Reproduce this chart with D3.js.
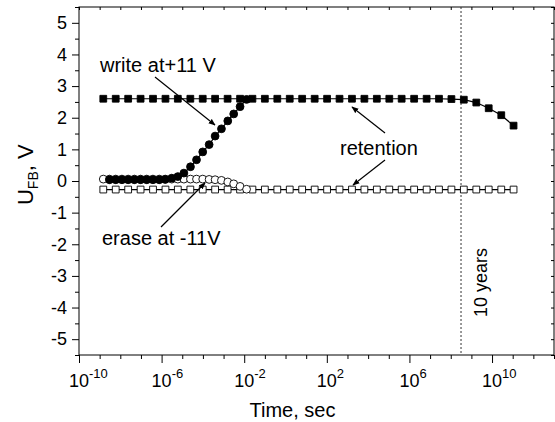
<!DOCTYPE html>
<html>
<head>
<meta charset="utf-8">
<script src="https://cdn.jsdelivr.net/npm/d3@7"></script>
<style>
  body { margin: 0; background: #fff; }
  text { font-family: "Liberation Sans", Arial, Helvetica, sans-serif; fill: #000; }
</style>
</head>
<body>
<div class="chart"></div>
<script>
// chart size
var svgWidth = 555;
var svgHeight = 422;

var margin = { top: 7, right: 1, bottom: 67, left: 79 };

var width = svgWidth - margin.left - margin.right;
var height = svgHeight - margin.top - margin.bottom;

// Data
// retention runs (squares)
var retentionTimes = [1.5e-9, 6e-9, 2.4e-8, 9.6e-8, 3.84e-7, 1.54e-6, 6.1e-6, 2.46e-5,
  9.8e-5, 3.9e-4, 1.57e-3, 6.3e-3, 2.5e-2, 0.1, 0.4, 1.6, 6.4, 25.8, 103, 412,
  1650, 6600, 2.64e4, 1.06e5, 4.2e5, 1.69e6, 6.8e6, 2.7e7, 1.08e8, 4.3e8,
  1.73e9, 6.9e9, 2.8e10, 1.1e11];
var retentionWritten = [2.6, 2.6, 2.6, 2.6, 2.6, 2.6, 2.6, 2.6, 2.6, 2.6,
  2.6, 2.6, 2.6, 2.6, 2.6, 2.6, 2.6, 2.6, 2.6, 2.6,
  2.6, 2.6, 2.6, 2.6, 2.6, 2.6, 2.6, 2.6, 2.59, 2.57,
  2.48, 2.3, 2.08, 1.75];
var retentionErased = [-0.27, -0.27, -0.27, -0.27, -0.27, -0.27, -0.27, -0.27, -0.27, -0.27,
  -0.27, -0.27, -0.27, -0.27, -0.27, -0.27, -0.27, -0.27, -0.27, -0.27,
  -0.27, -0.27, -0.27, -0.27, -0.27, -0.27, -0.27, -0.27, -0.27, -0.27,
  -0.27, -0.27, -0.27, -0.27];

// programming pulses (circles)
var pulseTimes = [1.5e-9, 3e-9, 6e-9, 1.2e-8, 2.4e-8, 4.8e-8, 9.6e-8, 1.9e-7,
  3.8e-7, 7.7e-7, 1.5e-6, 3.1e-6, 6.1e-6, 1.2e-5, 2.5e-5, 4.9e-5, 9.8e-5,
  2e-4, 3.9e-4, 7.9e-4, 1.6e-3, 3.1e-3, 6.3e-3, 1.3e-2];
var writeValues = [null, 0.04, 0.04, 0.04, 0.04, 0.04, 0.04, 0.04, 0.04, 0.04,
  0.05, 0.09, 0.14, 0.25, 0.45, 0.67, 0.92, 1.15, 1.42, 1.65, 1.9, 2.12, 2.35, 2.58];
var eraseValues = [0.06, 0.06, 0.06, 0.06, 0.06, 0.06, 0.06, 0.06, 0.06, 0.06,
  0.06, 0.06, 0.06, 0.06, 0.06, 0.06, 0.06, 0.05, 0.04, 0.02, -0.03, -0.09, -0.17, -0.26];

var majorX = [1e-10, 1e-6, 1e-2, 1e2, 1e6, 1e10];
var majorXExp = ["-10", "-6", "-2", "2", "6", "10"];
var yTicks = [-5, -4, -3, -2, -1, 0, 1, 2, 3, 4, 5];
var tenYears = 3.15e8;

var svg = d3
  .select(".chart")
  .append("svg")
  .attr("width", svgWidth)
  .attr("height", svgHeight);

var chartGroup = svg
  .append("g")
  .attr("transform", `translate(${margin.left}, ${margin.top})`);

var xScale = d3.scaleLog().domain([1e-10, 1e13]).range([0, width]);
var yScale = d3.scaleLinear().domain([-5.5, 5.5]).range([height, 0]);

var decades = d3.range(-10, 14).map((e) => Math.pow(10, e));
var halfSteps = d3.range(-5.5, 5.51, 0.5);

// bottom axis: minor every decade, major every 4 decades
chartGroup
  .append("g")
  .attr("transform", `translate(0, ${height})`)
  .call(d3.axisBottom(xScale).tickValues(decades.filter((d) => majorX.indexOf(d) < 0)).tickSize(4).tickFormat(""))
  .call((g) => g.select(".domain").remove());

var xMajor = chartGroup
  .append("g")
  .attr("transform", `translate(0, ${height})`)
  .call(d3.axisBottom(xScale).tickValues(majorX).tickSize(8).tickFormat(""));
xMajor.select(".domain").remove();

var xLabels = chartGroup
  .append("g")
  .selectAll("text")
  .data(majorX)
  .enter()
  .append("text")
  .attr("x", (d) => xScale(d) - 10)
  .attr("y", height + 32)
  .attr("font-size", "18px");
xLabels.append("tspan").text("10");
xLabels
  .append("tspan")
  .attr("dy", -9)
  .attr("font-size", "13px")
  .text((d, i) => majorXExp[i]);

// left axis
chartGroup
  .append("g")
  .call(d3.axisLeft(yScale).tickValues(halfSteps.filter((d) => yTicks.indexOf(d) < 0)).tickSize(4).tickFormat(""))
  .call((g) => g.select(".domain").remove());

var yAxis = chartGroup
  .append("g")
  .call(d3.axisLeft(yScale).tickValues(yTicks).tickSize(7).tickPadding(5).tickFormat((d) => String(d)));
yAxis.select(".domain").remove();
yAxis.selectAll("text").attr("font-size", "18px").attr("font-family", "Liberation Sans, Arial, sans-serif");

// mirrored inner ticks on top and right
chartGroup
  .append("g")
  .call(d3.axisBottom(xScale).tickValues(decades).tickSize(3).tickFormat(""))
  .call((g) => g.select(".domain").remove());
chartGroup
  .append("g")
  .attr("transform", `translate(${width}, 0)`)
  .call(d3.axisRight(yScale).tickValues(halfSteps).tickSize(-3).tickFormat(""))
  .call((g) => g.select(".domain").remove());

// frame
chartGroup
  .append("rect")
  .attr("x", 0)
  .attr("y", 0)
  .attr("width", width)
  .attr("height", height)
  .attr("fill", "none")
  .attr("stroke", "#000")
  .attr("stroke-width", 1);

// 10 years line
chartGroup
  .append("line")
  .attr("x1", xScale(tenYears))
  .attr("x2", xScale(tenYears))
  .attr("y1", 0)
  .attr("y2", height)
  .attr("stroke", "#333")
  .attr("stroke-width", 1)
  .attr("stroke-dasharray", "2,2");

chartGroup
  .append("text")
  .attr("transform", `translate(${xScale(tenYears) + 26}, ${yScale(-4.3)}) rotate(-90)`)
  .attr("font-size", "18px")
  .text("10 years");

var line = d3
  .line()
  .x((d) => xScale(d[0]))
  .y((d) => yScale(d[1]));

function drawSeries(times, values, shape, filled) {
  var pts = times.map((t, i) => [t, values[i]]).filter((d) => d[1] !== null);
  chartGroup
    .append("path")
    .datum(pts)
    .attr("d", line)
    .attr("fill", "none")
    .attr("stroke", "#000")
    .attr("stroke-width", 1.2);
  var sym = d3.symbol().type(shape === "square" ? d3.symbolSquare : d3.symbolCircle).size(shape === "square" ? 46 : 48);
  chartGroup
    .append("g")
    .selectAll("path")
    .data(pts)
    .enter()
    .append("path")
    .attr("d", sym)
    .attr("transform", (d) => `translate(${xScale(d[0])}, ${yScale(d[1])})`)
    .attr("fill", filled ? "#000" : "#fff")
    .attr("stroke", "#000")
    .attr("stroke-width", 0.9);
}

drawSeries(retentionTimes, retentionErased, "square", false);
drawSeries(retentionTimes, retentionWritten, "square", true);
drawSeries(pulseTimes, eraseValues, "circle", false);
drawSeries(pulseTimes, writeValues, "circle", true);

// arrows
svg
  .append("defs")
  .append("marker")
  .attr("id", "head")
  .attr("viewBox", "0 0 10 10")
  .attr("refX", 9)
  .attr("refY", 5)
  .attr("markerWidth", 7)
  .attr("markerHeight", 7)
  .attr("markerUnits", "userSpaceOnUse")
  .attr("orient", "auto")
  .append("path")
  .attr("d", "M0,1 L10,5 L0,9 z")
  .attr("fill", "#000");

function arrow(x1, y1, x2, y2) {
  svg
    .append("line")
    .attr("x1", x1)
    .attr("y1", y1)
    .attr("x2", x2)
    .attr("y2", y2)
    .attr("stroke", "#000")
    .attr("stroke-width", 1.2)
    .attr("marker-end", "url(#head)");
}

arrow(155, 77, 215, 125);
arrow(161, 227, 205, 183);
arrow(385, 133, 352, 107);
arrow(385, 160, 353, 185);

svg.append("text").attr("x", 100).attr("y", 72).attr("font-size", "20px").text("write at+11 V");
svg.append("text").attr("x", 102).attr("y", 245).attr("font-size", "20px").text("erase at -11V");
svg.append("text").attr("x", 340).attr("y", 155).attr("font-size", "20px").text("retention");

// axis titles
svg
  .append("text")
  .attr("x", margin.left + width / 2 - 24)
  .attr("y", 417)
  .attr("text-anchor", "middle")
  .attr("font-size", "20px")
  .text("Time, sec");

var yTitle = svg
  .append("text")
  .attr("transform", `translate(33, ${margin.top + yScale(0.2)}) rotate(-90)`)
  .attr("text-anchor", "middle")
  .attr("font-size", "22px");
yTitle.append("tspan").text("U");
yTitle.append("tspan").attr("dy", 5).attr("font-size", "14px").text("FB");
yTitle.append("tspan").attr("dy", -5).text(", V");
</script>
</body>
</html>
